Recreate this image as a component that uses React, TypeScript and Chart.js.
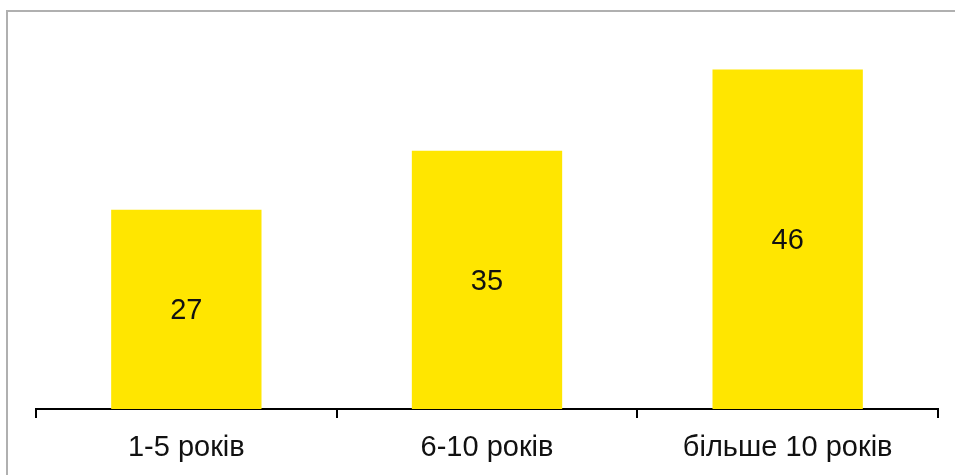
import React, { useEffect, useRef } from "react";
import { Chart, registerables } from "chart.js";

Chart.register(...registerables);

const categories = ["1-5 років", "6-10 років", "більше 10 років"];
const values = [27, 35, 46];

const FONT = "'Liberation Sans', Arial, sans-serif";

const valueLabels = {
  id: "valueLabels",
  afterDatasetsDraw(chart: any) {
    const ctx = chart.ctx;
    const meta = chart.getDatasetMeta(0);
    ctx.save();
    ctx.font = `29px ${FONT}`;
    ctx.fillStyle = "#111111";
    ctx.textAlign = "center";
    ctx.textBaseline = "middle";
    meta.data.forEach((el: any, i: number) => {
      const y = (el.y + el.base) / 2 + 2;
      ctx.fillText(String(values[i]), el.x, y);
    });
    ctx.restore();
  },
};

export default function App() {
  const ref = useRef<HTMLCanvasElement>(null);
  useEffect(() => {
    if (!ref.current) return;
    const chart = new Chart(ref.current, {
      type: "bar",
      data: {
        labels: categories,
        datasets: [
          {
            data: values,
            backgroundColor: "#FFE600",
            borderWidth: 0,
            barPercentage: 0.5,
            categoryPercentage: 1,
          },
        ],
      },
      options: {
        animation: false,
        responsive: false,
        maintainAspectRatio: false,
        layout: { padding: { left: 36, right: 17, top: 40, bottom: 0 } },
        plugins: { legend: { display: false }, tooltip: { enabled: false } },
        scales: {
          x: {
            afterFit(scale: any) {
              scale.height = 66;
            },
            grid: {
              display: true,
              drawOnChartArea: false,
              drawTicks: true,
              tickLength: 9,
              color: "#000000",
              lineWidth: 2,
              offset: true,
            },
            border: { display: true, color: "#000000", width: 2 },
            ticks: {
              color: "#111111",
              padding: 13,
              font: { family: FONT, size: 29 },
              maxRotation: 0,
            },
          },
          y: {
            display: false,
            min: 0,
            max: 50,
          },
        },
      },
      plugins: [valueLabels],
    });
    return () => chart.destroy();
  }, []);
  return (
    <div style={{ position: "fixed", left: 0, top: 0, width: 955, height: 475, background: "#fff" }}>
      <div
        style={{
          position: "absolute",
          left: 6,
          top: 10,
          width: 960,
          height: 480,
          borderLeft: "2px solid #b0b0b0",
          borderTop: "2px solid #b0b0b0",
        }}
      />
      <canvas ref={ref} width={955} height={475} style={{ position: "absolute", left: 0, top: 0 }} />
    </div>
  );
}
